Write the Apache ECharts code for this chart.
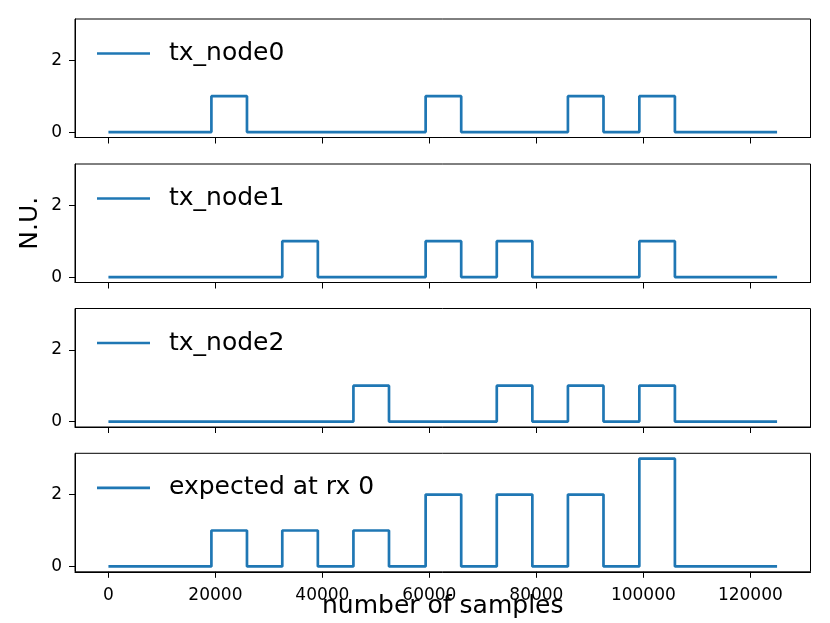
<!DOCTYPE html>
<html>
<head>
<meta charset="utf-8">
<script src="https://cdn.jsdelivr.net/npm/echarts@6/dist/echarts.min.js"></script>
<style>
html,body{margin:0;padding:0;background:#fff;}
#chart{width:830px;height:623px;}
</style>
</head>
<body>
<div id="chart"></div>
<script>
// Data (sample index where level changes, and level held from that index on)
const seriesNames = ['tx_node0', 'tx_node1', 'tx_node2', 'expected at rx 0'];
const node0X = [0, 19250, 25900, 59300, 65950, 85900, 92550, 99250, 105900, 125000];
const node0Y = [0, 1, 0, 1, 0, 1, 0, 1, 0, 0];
const node1X = [0, 32500, 39150, 59300, 65950, 72600, 79250, 99250, 105900, 125000];
const node1Y = [0, 1, 0, 1, 0, 1, 0, 1, 0, 0];
const node2X = [0, 45800, 52450, 72600, 79250, 85900, 92550, 99250, 105900, 125000];
const node2Y = [0, 1, 0, 1, 0, 1, 0, 1, 0, 0];
const rxX = [0, 19250, 25900, 32500, 39150, 45800, 52450, 59300, 65950, 72600, 79250, 85900, 92550, 99250, 105900, 125000];
const rxY = [0, 1, 0, 1, 0, 1, 0, 2, 0, 2, 0, 2, 0, 3, 0, 0];
const xTicks = [0, 20000, 40000, 60000, 80000, 100000, 120000];
const yTicks = [0, 2];

const allX = [node0X, node1X, node2X, rxX];
const allY = [node0Y, node1Y, node2Y, rxY];

const FONT = 'DejaVu Sans';
const COLOR = '#1f77b4';
const gridTops = [19, 164, 308.5, 453.3];
const gridH = 118.5;

const chart = echarts.init(document.getElementById('chart'), null, {renderer: 'canvas'});

const grids = [], xAxes = [], yAxes = [], series = [], legends = [];
for (let i = 0; i < 4; i++) {
  grids.push({left: 75, right: 19.5, top: gridTops[i], height: gridH, show: true,
    borderColor: '#000', borderWidth: 1, backgroundColor: 'transparent', containLabel: false,
    outerBoundsMode: 'none'});
  const last = i === 3;
  xAxes.push({
    type: 'value', gridIndex: i, min: -6250, max: 131250,
    axisLine: {show: true, onZero: false, lineStyle: {color: '#000', width: 1}},
    axisTick: {show: true, length: 6, customValues: xTicks, lineStyle: {color: '#000', width: 1}},
    axisLabel: {show: last, customValues: xTicks, margin: 15, color: '#000', fontFamily: FONT, fontSize: 17,
      formatter: v => String(v)},
    splitLine: {show: false},
    name: last ? 'number of samples' : '',
    nameLocation: 'middle', nameGap: 22, nameMoveOverlap: false,
    nameTextStyle: {color: '#000', fontFamily: FONT, fontSize: 25, verticalAlign: 'top'}
  });
  yAxes.push({
    type: 'value', gridIndex: i, min: -0.15, max: 3.15,
    axisLine: {show: true, onZero: false, lineStyle: {color: '#000', width: 1}},
    axisTick: {show: true, length: 6, customValues: yTicks, lineStyle: {color: '#000', width: 1}},
    axisLabel: {show: true, customValues: yTicks, margin: 13, color: '#000', fontFamily: FONT, fontSize: 17,
      formatter: v => String(v)},
    splitLine: {show: false},
    name: i === 1 ? 'N.U.' : '',
    nameLocation: 'middle', nameGap: 32, nameMoveOverlap: false,
    nameTextStyle: {color: '#000', fontFamily: FONT, fontSize: 25}
  });
  series.push({
    name: seriesNames[i], type: 'line', xAxisIndex: i, yAxisIndex: i,
    step: 'end', symbol: 'none', showSymbol: false,
    lineStyle: {color: COLOR, width: 2.7}, itemStyle: {color: COLOR},
    animation: false,
    data: allX[i].map((x, k) => [x, allY[i][k]])
  });
  legends.push({
    show: true, orient: 'horizontal',
    data: [seriesNames[i]], left: 97, top: gridTops[i] + 22, right: 'auto', bottom: 'auto',
    icon: 'rect', itemWidth: 53, itemHeight: 2.7, selectedMode: false, padding: 0,
    itemStyle: {color: COLOR, borderWidth: 0},
    textStyle: {color: '#000', fontFamily: FONT, fontSize: 25, padding: [0, 0, 0, 14]}
  });
}

chart.setOption({
  animation: false,
  backgroundColor: '#fff',
  grid: grids, xAxis: xAxes, yAxis: yAxes, series: series, legend: legends
});
</script>
</body>
</html>
